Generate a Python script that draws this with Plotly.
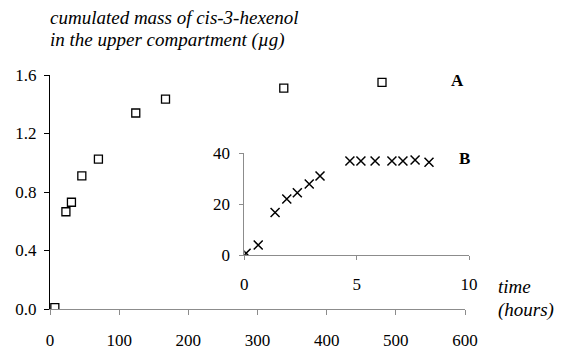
import plotly.graph_objects as go

# Series A: main chart (time in hours, cumulated mass in µg)
a_hours = [7, 23, 31, 46, 70, 124, 167, 338, 480]
a_mass = [0.01, 0.665, 0.73, 0.91, 1.025, 1.34, 1.435, 1.51, 1.55]

# Series B: inset (time in hours)
b_hours = [0.08, 0.62, 1.37, 1.89, 2.36, 2.89, 3.37, 4.70, 5.19, 5.82, 6.57, 7.06, 7.60, 8.22]
b_mass = [0.7, 3.9, 16.7, 22.0, 24.5, 27.9, 31.1, 37.0, 37.0, 37.0, 37.0, 37.0, 37.4, 36.5]

main_x_ticks = [0, 100, 200, 300, 400, 500, 600]
main_y_ticks = [0.0, 0.4, 0.8, 1.2, 1.6]
inset_x_ticks = [0, 5, 10]
inset_y_ticks = [0, 20, 40]

W, H = 569, 350
L, R, T, B = 50, 95, 75, 41
PW = W - L - R
PH = H - T - B

def px(x):
    return (x - L) / PW

def py(y):
    return (H - B - y) / PH

FONT = "'Liberation Serif', 'Times New Roman', serif"
GRAY = "#8c8c8c"

fig = go.Figure()
fig.add_trace(go.Scatter(
    x=a_hours, y=a_mass, mode="markers",
    marker=dict(symbol="square-open", size=8, color="black", line=dict(width=1.3)),
    xaxis="x", yaxis="y", showlegend=False))
fig.add_trace(go.Scatter(
    x=b_hours, y=b_mass, mode="markers",
    marker=dict(symbol="x-thin-open", size=9, color="black", line=dict(width=1.5, color="black")),
    xaxis="x2", yaxis="y2", showlegend=False))

tickfont = dict(family=FONT, size=17, color="black")

fig.update_layout(
    width=W, height=H,
    margin=dict(l=L, r=R, t=T, b=B, autoexpand=False),
    paper_bgcolor="white", plot_bgcolor="white",
    font=dict(family=FONT, color="black"),
    xaxis=dict(domain=[0, px(465)], range=[0, 600], tickvals=main_x_ticks,
               showgrid=False, zeroline=False, showline=True, linecolor=GRAY, linewidth=1,
               ticks="outside", ticklen=5, tickcolor=GRAY, tickfont=tickfont,
               ticklabelstandoff=11, anchor="y", automargin=False),
    yaxis=dict(domain=[0, 1], range=[0, 1.6], tickvals=main_y_ticks, tickformat=".1f",
               showgrid=False, zeroline=False, showline=True, linecolor="black", linewidth=1,
               ticks="outside", ticklen=5, tickcolor="black", tickfont=tickfont,
               ticklabelstandoff=4, anchor="x", automargin=False),
    xaxis2=dict(domain=[px(244.3), px(469)], range=[0, 10], tickvals=inset_x_ticks,
                showgrid=False, zeroline=False, showline=True, linecolor=GRAY, linewidth=1,
                ticks="outside", ticklen=4, tickcolor=GRAY, tickfont=tickfont,
                ticklabelstandoff=10, anchor="y2", automargin=False),
    yaxis2=dict(domain=[py(255), py(153.3)], range=[0, 40], tickvals=inset_y_ticks,
                showgrid=False, zeroline=False, showline=True, linecolor=GRAY, linewidth=1,
                ticks="outside", ticklen=4, tickcolor=GRAY, tickfont=tickfont,
                ticklabelstandoff=6, anchor="x2", automargin=False),
)

ann_font = dict(family=FONT, size=19, color="black")
anns = [
    dict(text="<i>cumulated mass of cis-3-hexenol</i>", x=px(48), y=py(17)),
    dict(text="<i>in the upper compartment (µg)</i>", x=px(48), y=py(40)),
    dict(text="<i>time</i>", x=px(496), y=py(286)),
    dict(text="<i>(hours)</i>", x=px(496), y=py(310)),
]
for a in anns:
    fig.add_annotation(text=a["text"], x=a["x"], y=a["y"], xref="paper", yref="paper",
                       xanchor="left", yanchor="middle", showarrow=False, font=ann_font)
fig.add_annotation(text="<b>A</b>", x=px(457), y=py(80), xref="paper", yref="paper",
                   xanchor="center", yanchor="middle", showarrow=False,
                   font=dict(family=FONT, size=17, color="black"))
fig.add_annotation(text="<b>B</b>", x=px(464), y=py(158), xref="paper", yref="paper",
                   xanchor="center", yanchor="middle", showarrow=False,
                   font=dict(family=FONT, size=17, color="black"))

fig.write_html("out.html")
